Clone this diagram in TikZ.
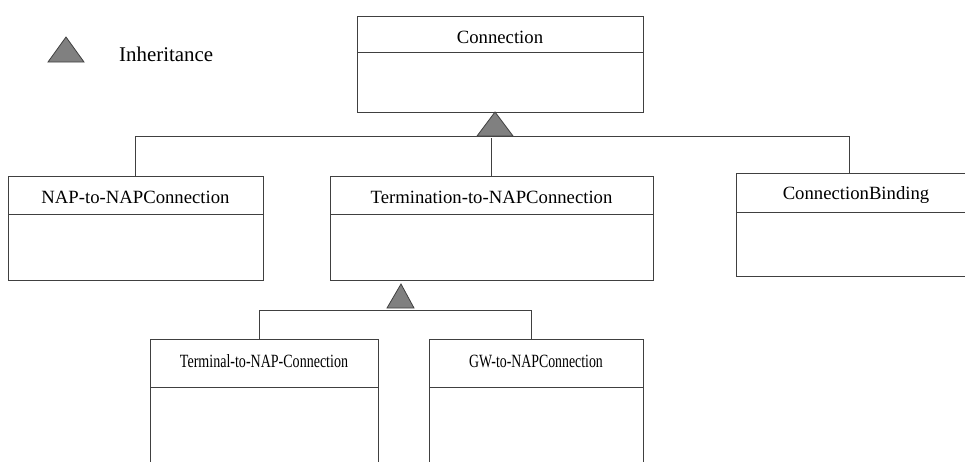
\documentclass[tikz,border=0pt]{standalone}
\usepackage{fontspec}
\setmainfont{Liberation Serif}
\usetikzlibrary{calc}
\definecolor{linec}{HTML}{404040}
\definecolor{trifill}{HTML}{808080}
\tikzset{
  cls/.style={draw=linec, line width=1pt, rectangle, inner sep=0pt, outer sep=0pt, anchor=north west},
  ttl/.style={font=\fontsize{18.7}{20}\selectfont, inner sep=0pt, anchor=center},
  div/.style={draw=linec, line width=1pt},
  link/.style={draw=linec, line width=1pt},
  inh/.style={draw=linec, fill=trifill, line width=0.8pt, line join=miter}
}
\begin{document}
\begin{tikzpicture}[x=1pt, y=-1pt]
\useasboundingbox (0,0) rectangle (965,461);
% legend
\coordinate (lgA) at (66,37);
\coordinate (lgL) at (48,62);
\coordinate (lgR) at (84,62);
\path[inh] (lgA) -- (lgR) -- (lgL) -- cycle;
\node[font=\fontsize{20.9}{22}\selectfont, inner sep=0pt, anchor=west] (lgtxt) at (119,54) {Inheritance};

% classes
\node[cls, minimum width=286pt, minimum height=96pt] (conn) at (357,16) {};
\draw[div] (357,52) -- (643,52);
\node[ttl] (connT) at (500,37) {Connection};

\node[cls, minimum width=255pt, minimum height=104pt] (nap) at (8,176) {};
\draw[div] (8,214) -- (263,214);
\node[ttl] (napT) at (135.5,197) {NAP-to-NAPConnection};

\node[cls, minimum width=323pt, minimum height=104pt] (term) at (330,176) {};
\draw[div] (330,214) -- (653,214);
\node[ttl] (termT) at (491.5,197) {Termination-to-NAPConnection};

\node[cls, minimum width=240pt, minimum height=103pt] (cb) at (736,173) {};
\draw[div] (736,212) -- (976,212);
\node[ttl] (cbT) at (856,195) {ConnectionBinding};

\node[cls, minimum width=228pt, minimum height=140pt] (tnap) at (150,339) {};
\draw[div] (150,387) -- (378,387);
\node[ttl] (tnapT) at (264,361) {\scalebox{0.75}[1]{Terminal-to-NAP-Connection}};

\node[cls, minimum width=214pt, minimum height=140pt] (gw) at (429,339) {};
\draw[div] (429,387) -- (643,387);
\node[ttl] (gwT) at (536,361) {\scalebox{0.74}[1]{GW-to-NAPConnection}};

% inheritance 1
\coordinate (t1A) at (495,112);
\coordinate (t1L) at (477,136);
\coordinate (t1R) at (513,136);
\coordinate (b1L) at (135,136);
\coordinate (b1R) at (849,136);
\coordinate (b1M) at (491,138);
\draw[link] (b1L) -- (b1R);
\draw[link] (b1L) -- (b1L |- nap.north);
\draw[link] (b1R) -- (b1R |- cb.north);
\draw[link] (b1M) -- (b1M |- term.north);
\path[inh] (t1A) -- (t1R) -- (t1L) -- cycle;

% inheritance 2
\coordinate (t2A) at (401,284);
\coordinate (t2L) at (387,308);
\coordinate (t2R) at (414,308);
\coordinate (b2L) at (259,310);
\coordinate (b2R) at (531,310);
\draw[link] (b2L) -- (b2R);
\draw[link] (b2L) -- (b2L |- tnap.north);
\draw[link] (b2R) -- (b2R |- gw.north);
\path[inh] (t2A) -- (t2R) -- (t2L) -- cycle;
\end{tikzpicture}
\end{document}
